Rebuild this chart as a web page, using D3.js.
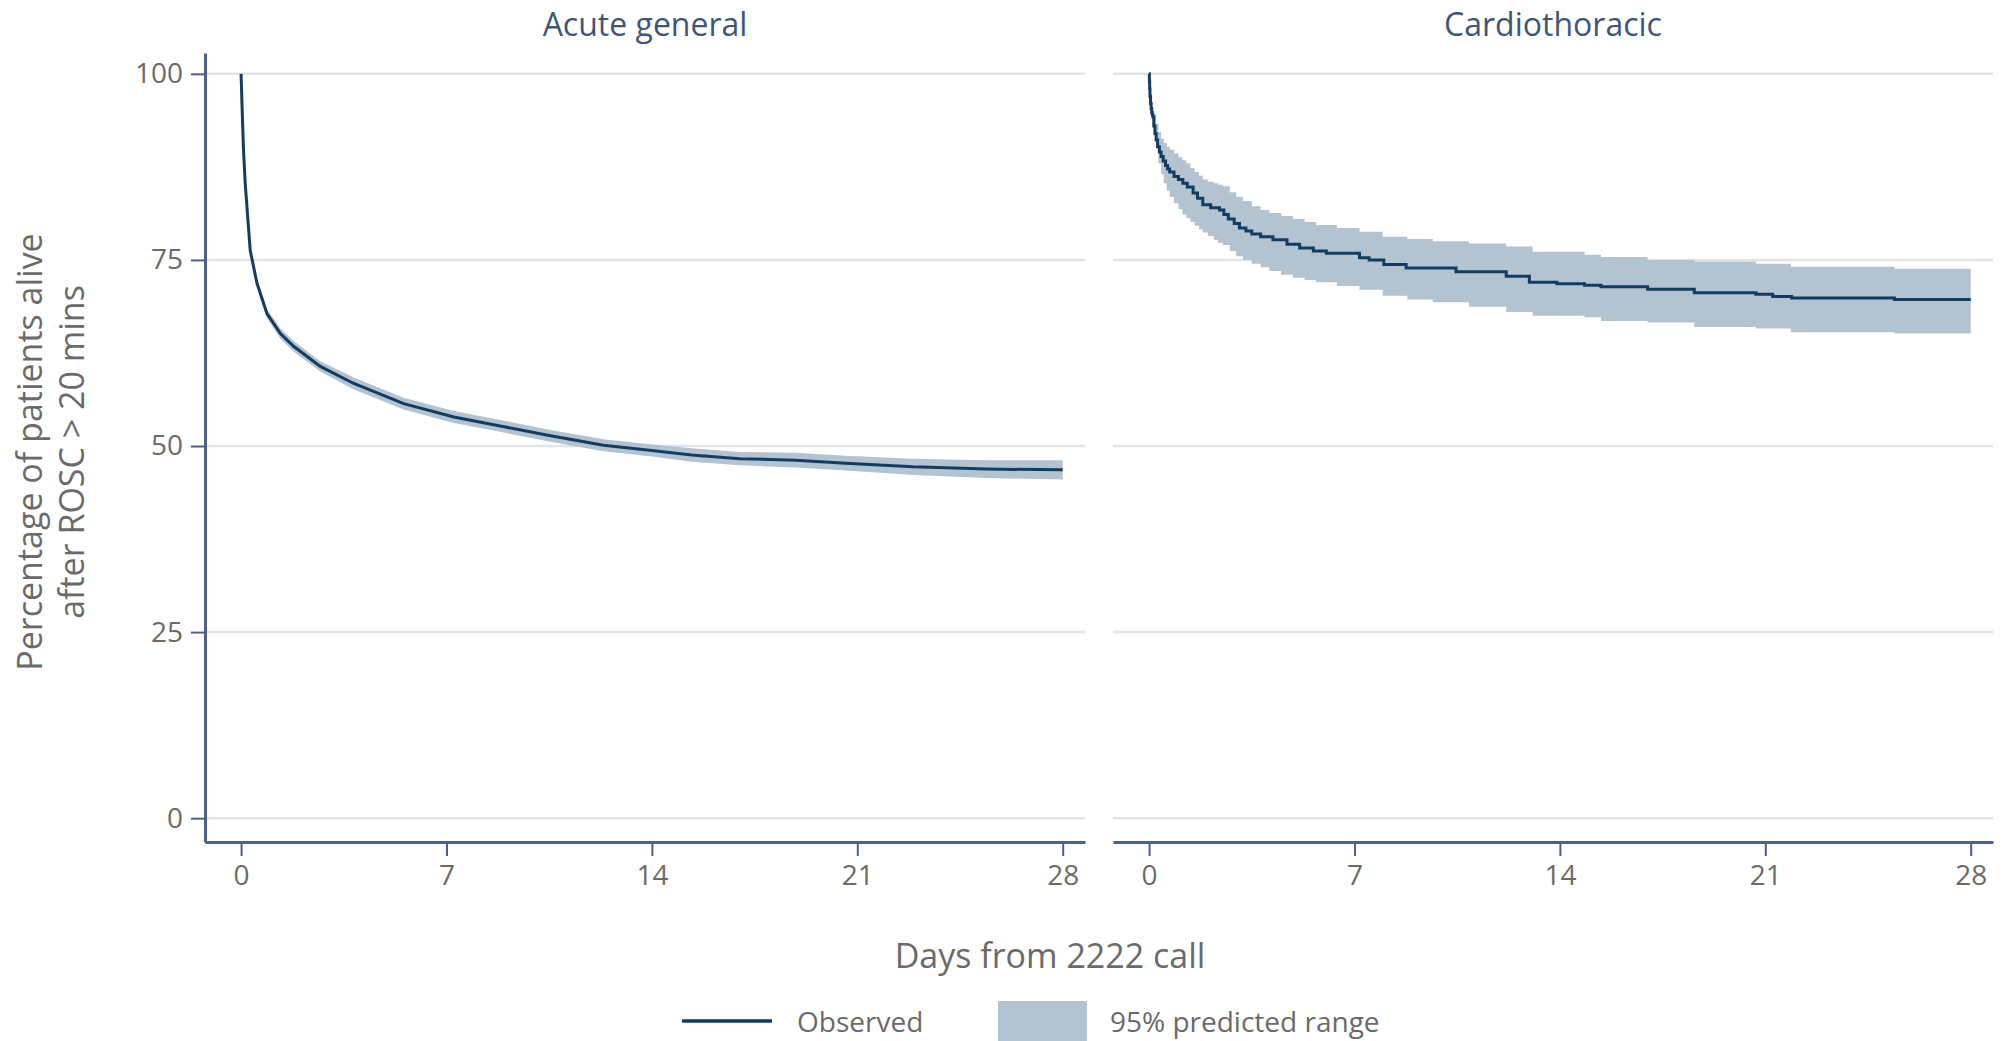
<!DOCTYPE html>
<html>
<head>
<meta charset="utf-8">
<script src="https://cdn.jsdelivr.net/npm/d3@7"></script>
<style>
  html, body { margin: 0; padding: 0; background: #fff; }
  svg { display: block; font-family: "Open Sans", "Noto Sans", sans-serif; }
</style>
</head>
<body>
<svg id="chart" width="2008" height="1041"></svg>
<script>
// ---------------- DATA ----------------
const panelTitles = ["Acute general", "Cardiothoracic"];
const xTicks = [0, 7, 14, 21, 28];
const yTicks = [0, 25, 50, 75, 100];
const xTitle = "Days from 2222 call";
const yTitleLines = ["Percentage of patients alive", "after ROSC > 20 mins"];
const legendLabels = ["Observed", "95% predicted range"];

// Acute general (smooth)
const acuteDays  = [0, 0.03, 0.08, 0.14, 0.31, 0.54, 0.88, 1.34, 1.79, 2.7, 3.84, 5.54, 7.25, 8.83, 10.5, 12.35, 14, 15.35, 17, 18.9, 20.6, 22.9, 25.4, 28];
const acuteObs   = [100, 96, 90, 85.3, 76.3, 71.9, 67.8, 65.1, 63.4, 60.7, 58.4, 55.7, 53.9, 52.7, 51.4, 50.1, 49.4, 48.8, 48.3, 48.1, 47.7, 47.2, 46.9, 46.8];
const acuteUpper = [100, 96.3, 90.3, 85.6, 76.6, 72.4, 68.4, 65.8, 64.1, 61.4, 59.2, 56.5, 54.7, 53.5, 52.2, 50.9, 50.2, 49.7, 49.2, 49.1, 48.7, 48.3, 48.1, 48.1];
const acuteLower = [100, 95.7, 89.7, 85.0, 76.0, 71.4, 67.2, 64.4, 62.7, 60.0, 57.6, 54.9, 53.1, 51.9, 50.6, 49.3, 48.6, 47.9, 47.4, 47.1, 46.7, 46.1, 45.7, 45.5];

// Cardiothoracic (step)
const cardioObsDays = [0, 0.01, 0.02, 0.03, 0.05, 0.07, 0.09, 0.11, 0.13, 0.16, 0.2, 0.24, 0.29, 0.35, 0.41, 0.48, 0.56, 0.63, 0.7, 0.85, 1.0, 1.15, 1.3, 1.5, 1.65, 1.83, 2.1, 2.4, 2.55, 2.7, 2.9, 3.08, 3.3, 3.5, 3.8, 4.22, 4.7, 5.13, 5.6, 6.04, 7.17, 7.5, 8.0, 8.76, 10.46, 12.17, 12.96, 13.9, 14.84, 15.4, 16.99, 18.58, 20.68, 21.25, 21.9, 25.4, 28];
const cardioObs     = [100, 99, 98, 97, 96, 95.3, 94.8, 94.5, 94.2, 93, 92, 91.1, 90.2, 89.5, 88.9, 88.3, 87.7, 87.2, 86.8, 86.2, 85.8, 85.3, 84.8, 84.0, 83.3, 82.4, 82.0, 81.7, 81.1, 80.5, 79.9, 79.3, 78.9, 78.5, 78.1, 77.7, 77.1, 76.6, 76.2, 75.9, 75.3, 75.0, 74.4, 73.9, 73.4, 72.8, 72.0, 71.8, 71.6, 71.4, 71.06, 70.6, 70.4, 70.1, 69.9, 69.7, 69.7];
const cardioBandDays = [0.17, 0.24, 0.32, 0.41, 0.5, 0.6, 0.7, 0.85, 1.0, 1.13, 1.27, 1.41, 1.55, 1.7, 1.83, 2.0, 2.2, 2.35, 2.51, 2.75, 2.97, 3.2, 3.5, 3.8, 4.1, 4.5, 4.9, 5.3, 5.69, 6.4, 7.17, 7.96, 8.8, 9.67, 10.9, 12.17, 13.07, 14.84, 15.4, 16.99, 18.58, 20.68, 21.87, 25.4, 28];
const cardioUpper    = [94.5, 93.3, 92.2, 91.3, 90.7, 90.2, 89.8, 89.3, 88.8, 88.4, 88.0, 87.3, 86.8, 86.3, 85.8, 85.5, 85.3, 85.1, 84.9, 84.1, 83.5, 82.9, 82.2, 81.7, 81.3, 80.9, 80.5, 80.1, 79.7, 79.3, 78.8, 78.1, 77.8, 77.5, 77.2, 76.8, 76.1, 75.7, 75.4, 75.0, 74.8, 74.5, 74.1, 73.8, 73.8];
const cardioLower    = [93.0, 90.0, 88.0, 86.5, 85.3, 84.3, 83.5, 82.6, 81.8, 81.1, 80.6, 80.1, 79.6, 79.1, 78.7, 78.2, 77.7, 77.3, 77.0, 76.2, 75.5, 75.0, 74.5, 74.0, 73.5, 73.0, 72.6, 72.3, 72.0, 71.5, 71.0, 70.2, 69.7, 69.3, 68.7, 68.0, 67.5, 67.3, 66.8, 66.6, 66.0, 65.8, 65.3, 65.1, 65.1];

// ---------------- STYLE ----------------
const lineColor = "#123d63";
const bandColor = "#b3c3d0";
const gridColor = "#e3e3e3";
const axisColor = "#4d5f8a";
const tickText = "#6e6a66";
const titleColor = "#3f5677";
const axisTitleColor = "#6a6a6a";

const svg = d3.select("#chart");
const plotTop = 53, plotBottom = 842;
const panels = [
  { x0: 205, x1: 1085, title: panelTitles[0], step: false,
    obs: acuteDays.map((d, i) => [d, acuteObs[i]]),
    band: acuteDays.map((d, i) => [d, acuteLower[i], acuteUpper[i]]) },
  { x0: 1113, x1: 1993, title: panelTitles[1], step: true,
    obs: cardioObsDays.map((d, i) => [d, cardioObs[i]]),
    band: cardioBandDays.map((d, i) => [d, cardioLower[i], cardioUpper[i]]) }
];

const y = d3.scaleLinear().domain([-3.2, 102.8]).range([plotBottom, plotTop]);

panels.forEach((p, pi) => {
  const x = d3.scaleLinear().domain([-1.23, 28.76]).range([p.x0, p.x1]);
  const g = svg.append("g");

  // gridlines
  g.selectAll(".grid").data(yTicks).enter().append("line")
    .attr("x1", p.x0).attr("x2", p.x1)
    .attr("y1", d => y(d)).attr("y2", d => y(d))
    .attr("stroke", gridColor).attr("stroke-width", 2.5);

  const curve = p.step ? d3.curveStepAfter : d3.curveLinear;
  // band
  g.append("path").datum(p.band)
    .attr("d", d3.area().curve(curve).x(d => x(d[0])).y0(d => y(d[1])).y1(d => y(d[2])))
    .attr("fill", bandColor).attr("stroke", "none");
  // observed
  g.append("path").datum(p.obs)
    .attr("d", d3.line().curve(curve).x(d => x(d[0])).y(d => y(d[1])))
    .attr("fill", "none").attr("stroke", lineColor).attr("stroke-width", 3);

  // x axis
  const xa = g.append("g").attr("transform", `translate(0,${plotBottom})`)
    .call(d3.axisBottom(x).tickValues(xTicks).tickSize(14).tickPadding(7).tickSizeOuter(0));
  xa.select(".domain").attr("stroke", axisColor).attr("stroke-width", 3);
  xa.selectAll(".tick line").attr("stroke", axisColor).attr("stroke-width", 2);
  xa.selectAll(".tick text").attr("fill", tickText).attr("font-size", 28)
    .attr("font-family", "'Open Sans', sans-serif").attr("dy", "0.8em");

  // y axis on left panel only
  if (pi === 0) {
    const ya = g.append("g").attr("transform", `translate(${p.x0},0)`)
      .call(d3.axisLeft(y).tickValues(yTicks).tickSize(14).tickPadding(8).tickSizeOuter(0));
    ya.select(".domain").attr("stroke", axisColor).attr("stroke-width", 3);
    ya.selectAll(".tick line").attr("stroke", axisColor).attr("stroke-width", 2);
    ya.selectAll(".tick text").attr("fill", tickText).attr("font-size", 28)
      .attr("font-family", "'Open Sans', sans-serif");
  }

  // panel title
  svg.append("text").attr("x", (p.x0 + p.x1) / 2).attr("y", 36)
    .attr("text-anchor", "middle").attr("font-size", 32).attr("fill", titleColor)
    .text(p.title);
});

// x axis title
svg.append("text").attr("x", 1050).attr("y", 968)
  .attr("text-anchor", "middle").attr("font-size", 34).attr("fill", axisTitleColor)
  .text(xTitle);

// y axis title
const yt = svg.append("text").attr("transform", "translate(0,452) rotate(-90)")
  .attr("text-anchor", "middle").attr("font-size", 34).attr("fill", axisTitleColor);
yt.append("tspan").attr("x", 0).attr("y", 42).text(yTitleLines[0]);
yt.append("tspan").attr("x", 0).attr("y", 84).text(yTitleLines[1]);

// legend
const lg = svg.append("g");
lg.append("line").attr("x1", 682).attr("x2", 772).attr("y1", 1021).attr("y2", 1021)
  .attr("stroke", lineColor).attr("stroke-width", 3.5);
lg.append("text").attr("x", 797).attr("y", 1032).attr("font-size", 28).attr("fill", axisTitleColor)
  .text(legendLabels[0]);
lg.append("rect").attr("x", 998).attr("y", 1001).attr("width", 89).attr("height", 42)
  .attr("fill", bandColor);
lg.append("text").attr("x", 1110).attr("y", 1032).attr("font-size", 28).attr("fill", axisTitleColor)
  .text(legendLabels[1]);
</script>
</body>
</html>
